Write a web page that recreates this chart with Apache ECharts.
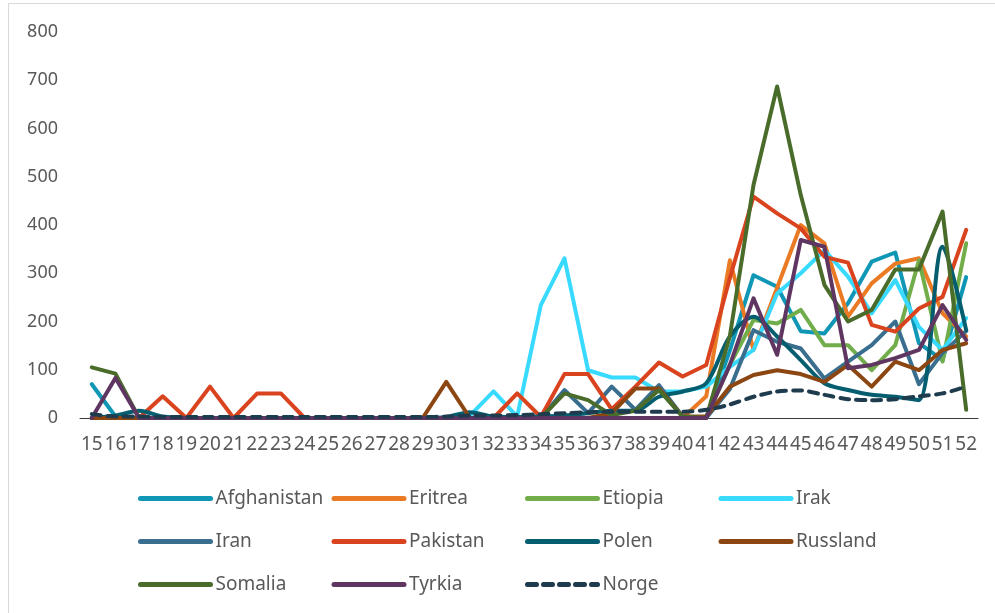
<!DOCTYPE html>
<html>
<head>
<meta charset="utf-8">
<script src="https://cdn.jsdelivr.net/npm/echarts@6/dist/echarts.min.js"></script>
<style>
  html, body { margin: 0; padding: 0; background: #fff; }
  #chart { width: 995px; height: 613px; }
</style>
</head>
<body>
<div id="chart"></div>
<script>
// uker 15-52
const weeks = ['15','16','17','18','19','20','21','22','23','24','25','26','27','28','29','30','31','32','33','34',
  '35','36','37','38','39','40','41','42','43','44','45','46','47','48','49','50','51','52']

const afghanistan = [70,3,0,0,0,0,0,0,0,0,0,0,0,0,0,0,0,0,0,0,0,0,0,0,0,0,0,140,296,272,180,175,238,324,343,155,120,292]
const eritrea     = [0,0,0,0,0,0,0,0,0,0,0,0,0,0,0,0,0,0,0,0,0,0,0,0,0,0,45,327,141,270,400,362,210,279,320,331,217,169]
const etiopia     = [0,0,0,0,0,0,0,0,0,0,0,0,0,0,0,0,0,0,0,0,0,0,0,0,0,0,0,110,203,196,224,151,151,99,151,327,117,362]
const irak        = [0,0,0,0,0,0,0,0,0,0,0,0,0,0,0,0,5,55,3,234,331,99,84,84,55,55,65,106,141,258,300,348,293,217,286,189,141,207]
const iran        = [0,0,0,0,0,0,0,0,0,0,0,0,0,0,0,0,0,0,0,0,58,10,65,17,68,3,0,60,182,158,144,82,117,151,200,70,135,180]
const pakistan    = [0,0,0,45,0,65,0,51,51,0,0,0,0,0,0,0,0,0,51,2,91,91,18,65,115,86,110,290,459,424,393,334,322,193,179,227,251,390]
const polen       = [0,5,15,3,0,0,0,0,0,0,0,0,0,0,0,2,12,3,2,3,5,10,15,15,44,55,72,169,210,169,120,72,58,48,44,37,355,182]
const russland    = [0,0,0,0,0,0,0,0,0,0,0,0,0,0,0,75,0,0,0,0,0,0,10,61,61,3,3,65,89,99,91,75,110,65,117,99,141,155]
const somalia     = [105,92,0,0,0,0,0,0,0,0,0,0,0,0,0,0,0,0,0,0,51,37,6,15,58,3,0,170,483,687,462,276,200,224,308,308,428,17]
const tyrkia      = [0,83,0,0,0,0,0,0,0,0,0,0,0,0,0,0,0,0,0,0,0,0,0,0,0,0,0,110,248,131,369,355,103,110,124,141,234,162]
const norge       = [8,3,3,2,2,2,2,2,2,2,2,2,2,2,2,3,5,5,6,8,10,12,13,13,13,13,17,28,44,55,57,48,39,37,39,45,51,65]

const yTicks = [0, 100, 200, 300, 400, 500, 600, 700, 800]

const countries = [
  { name: 'Afghanistan', data: afghanistan, color: '#0f97b5' },
  { name: 'Eritrea', data: eritrea, color: '#ea7b24' },
  { name: 'Etiopia', data: etiopia, color: '#72ad4b' },
  { name: 'Irak', data: irak, color: '#38daff' },
  { name: 'Iran', data: iran, color: '#3a6e8e' },
  { name: 'Pakistan', data: pakistan, color: '#d9441f' },
  { name: 'Polen', data: polen, color: '#045e6f', smooth: true },
  { name: 'Russland', data: russland, color: '#8c4612' },
  { name: 'Somalia', data: somalia, color: '#4a6c2b' },
  { name: 'Tyrkia', data: tyrkia, color: '#5f3561' },
  { name: 'Norge', data: norge, color: '#1f3c4f', dashed: true, smooth: true }
]

const font = 'Noto Sans'
const textColor = '#595959'

const chart = echarts.init(document.getElementById('chart'))

chart.setOption({
  animation: false,
  textStyle: { fontFamily: font },
  graphic: [
    {
      type: 'rect',
      shape: { x: 8.5, y: 3.5, width: 1000, height: 640 },
      style: { fill: 'none', stroke: '#d9d9d9', lineWidth: 1 },
      silent: true
    }
  ],
  grid: {
    left: 80,
    right: 17,
    top: 32,
    bottom: 195
  },
  legend: {
    data: countries.map(c => c.name),
    left: 133,
    top: 475,
    width: 770,
    itemWidth: 70,
    itemHeight: 14,
    itemGap: 6,
    itemStyle: { opacity: 0 },
    lineStyle: { width: 5, cap: 'round' },
    textStyle: {
      fontFamily: font,
      fontSize: 19,
      color: textColor,
      width: 110,
      lineHeight: 37
    }
  },
  xAxis: {
    type: 'category',
    data: weeks,
    boundaryGap: true,
    axisLine: { lineStyle: { color: '#3a3a3a', width: 1 } },
    axisTick: { show: false },
    axisLabel: {
      interval: 0,
      margin: 17,
      fontFamily: font,
      fontSize: 19,
      color: textColor
    }
  },
  yAxis: {
    type: 'value',
    min: yTicks[0],
    max: yTicks[yTicks.length - 1],
    interval: 100,
    axisLine: { show: false },
    axisTick: { show: false },
    splitLine: { show: false },
    axisLabel: {
      margin: 22,
      fontFamily: font,
      fontSize: 18,
      color: textColor
    }
  },
  series: countries.map(c => ({
    name: c.name,
    type: 'line',
    data: c.data,
    symbol: 'none',
    smooth: c.smooth ? 0.3 : false,
    color: c.color,
    lineStyle: {
      color: c.color,
      width: 4,
      type: c.dashed ? [9, 7] : 'solid',
      cap: 'round',
      join: 'round'
    }
  }))
})
</script>
</body>
</html>
